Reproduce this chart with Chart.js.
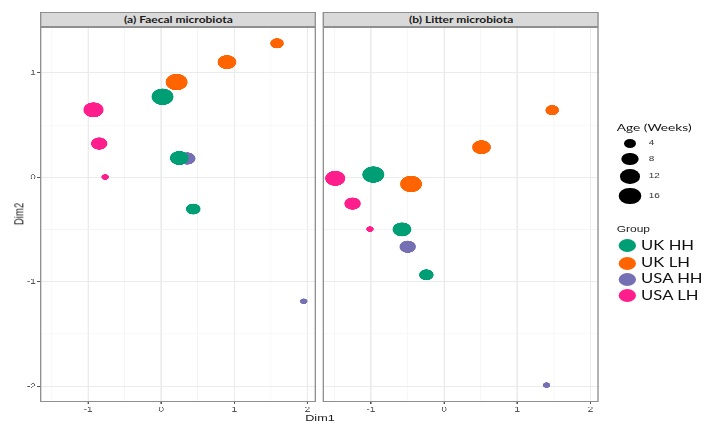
<!DOCTYPE html>
<html><head><meta charset="utf-8">
<script src="https://cdn.jsdelivr.net/npm/chart.js@4.4.0/dist/chart.umd.min.js"></script>
<style>
html,body{margin:0;padding:0;background:#fff;width:708px;height:431px;overflow:hidden}
#fig{position:absolute;left:0;top:0;width:531px;height:431px;transform:scaleX(1.33333);transform-origin:0 0;}
canvas{position:absolute;top:0}
.frame{position:absolute;border:1.2px solid #8f8f8f;box-sizing:border-box;pointer-events:none}
.strip{position:absolute;background:#d9d9d9;border:1.2px solid #8f8f8f;box-sizing:border-box;font:bold 9px Lato, sans-serif;text-align:center;color:#1a1a1a;line-height:13px;white-space:nowrap}
.t{position:absolute;white-space:nowrap}
.dot{position:absolute;border-radius:50%}
</style></head>
<body>
<div id="fig">
  <canvas id="ca" width="240" height="431" style="left:0;width:240px;height:431px"></canvas>
  <canvas id="cb" width="211" height="431" style="left:240px;width:211px;height:431px"></canvas>
  <div class="frame" style="left:30.3px;top:26.5px;width:207px;height:375px"></div>
  <div class="frame" style="left:242.3px;top:26.5px;width:207.2px;height:375px"></div>
  <div class="strip" style="left:30.3px;top:12.3px;width:207px;height:15px" id="sa">(a) Faecal microbiota</div>
  <div class="strip" style="left:242.3px;top:12.3px;width:207.2px;height:15px" id="sb">(b) Litter microbiota</div>
  <div class="t" style="left:240px;top:412px;transform:translateX(-50%);font:9.5px 'Liberation Sans';color:#1a1a1a">Dim1</div>
  <div class="t" style="left:13.5px;top:214px;transform:translate(-50%,-50%) rotate(-90deg);font:9.5px 'Liberation Sans';color:#1a1a1a">Dim2</div>
  <div id="legend"></div>
</div>
<script>
// ---- data ----
const groups = ['UK HH', 'UK LH', 'USA HH', 'USA LH'];
const groupColors = ['#009E74', '#FF6400', '#7570B3', '#FF1E8C'];

// (a) Faecal microbiota
const faecalUKHH_x = [0.018, 0.247, 0.438];
const faecalUKHH_y = [0.771, 0.185, -0.304];
const faecalUKHH_age = [16, 11, 6];
const faecalUKLH_x = [1.584, 0.899, 0.210];
const faecalUKLH_y = [1.283, 1.103, 0.912];
const faecalUKLH_age = [5, 11, 16];
const faecalUSAHH_x = [0.356, 1.949];
const faecalUSAHH_y = [0.180, -1.187];
const faecalUSAHH_age = [8, 1];
const faecalUSALH_x = [-0.927, -0.849, -0.767];
const faecalUSALH_y = [0.646, 0.323, 0.003];
const faecalUSALH_age = [13, 8, 1];

// (b) Litter microbiota
const litterUKHH_x = [-0.967, -0.575, -0.242];
const litterUKHH_y = [0.026, -0.499, -0.934];
const litterUKHH_age = [16, 11, 6];
const litterUKLH_x = [1.477, 0.511, -0.451];
const litterUKLH_y = [0.643, 0.288, -0.064];
const litterUKLH_age = [5, 11, 16];
const litterUSAHH_x = [-0.497, 1.400];
const litterUSAHH_y = [-0.665, -1.990];
const litterUSAHH_age = [8, 1];
const litterUSALH_x = [-1.487, -1.250, -1.012];
const litterUSALH_y = [-0.010, -0.252, -0.496];
const litterUSALH_age = [13, 8, 1];

// axes
const xMin = -1.653, xMax = 2.121;
const yMin = -2.147, yMax = 1.444;
const xTicks = [-1.5, -1, -0.5, 0, 0.5, 1, 1.5, 2];
const xMajor = [-1, 0, 1, 2];
const yTicks = [-2, -1.5, -1, -0.5, 0, 0.5, 1];
const yMajor = [-2, -1, 0, 1];
const ageBreaks = [4, 8, 12, 16];

// size scale (area ~ age)
function radius(age) { return 1.05 + 1.8 * Math.sqrt(age); }

function gridOpts(major, drawTicks) {
  return {
    color: c => major.includes(c.tick && c.tick.value) ? '#EBEBEB' : '#F4F4F4',
    lineWidth: c => major.includes(c.tick && c.tick.value) ? 1 : 0.6,
    tickColor: c => major.includes(c.tick && c.tick.value) ? '#555' : 'rgba(0,0,0,0)',
    tickLength: 2.5,
    drawTicks: drawTicks
  };
}
function noPad(ax) { ax.paddingLeft = 0; ax.paddingRight = 0; ax.paddingTop = 0; ax.paddingBottom = 0; }

function makeChart(id, sets, showY, yWidth, padRight) {
  const datasets = groups.map((g, i) => ({
    label: g,
    data: sets[i][0].map((v, j) => ({ x: v, y: sets[i][1][j], age: sets[i][2][j] })),
    backgroundColor: groupColors[i],
    borderWidth: 0,
    pointRadius: c => c.raw ? radius(c.raw.age) : 3,
    pointHoverRadius: c => c.raw ? radius(c.raw.age) : 3
  }));
  return new Chart(document.getElementById(id), {
    type: 'scatter',
    data: { datasets },
    options: {
      responsive: false, animation: false, devicePixelRatio: 3, events: [],
      layout: { autoPadding: false, padding: { top: 26.5, right: padRight, left: 0, bottom: 0 } },
      plugins: { legend: { display: false }, tooltip: { enabled: false } },
      scales: {
        x: {
          type: 'linear', min: xMin, max: xMax,
          afterBuildTicks: ax => { ax.ticks = xTicks.map(v => ({ value: v })); },
          afterFit: ax => { ax.height = 29.5; noPad(ax); },
          grid: gridOpts(xMajor, true),
          border: { display: false },
          ticks: { autoSkip: false, maxRotation: 0, minRotation: 0, padding: 1, color: '#555',
            font: { family: 'Liberation Sans', size: 7.5 },
            callback: v => xMajor.includes(v) ? String(v) : '' }
        },
        y: {
          type: 'linear', min: yMin, max: yMax,
          afterBuildTicks: ax => { ax.ticks = yTicks.map(v => ({ value: v })); },
          afterFit: ax => { ax.width = yWidth; noPad(ax); },
          grid: gridOpts(yMajor, showY),
          border: { display: false },
          ticks: { display: showY, autoSkip: false, padding: 1, color: '#555',
            font: { family: 'Liberation Sans', size: 7.5 },
            callback: v => yMajor.includes(v) ? String(v) : '' }
        }
      }
    }
  });
}

makeChart('ca', [
  [faecalUKHH_x, faecalUKHH_y, faecalUKHH_age],
  [faecalUKLH_x, faecalUKLH_y, faecalUKLH_age],
  [faecalUSAHH_x, faecalUSAHH_y, faecalUSAHH_age],
  [faecalUSALH_x, faecalUSALH_y, faecalUSALH_age]
], true, 30.3, 2.8);
makeChart('cb', [
  [litterUKHH_x, litterUKHH_y, litterUKHH_age],
  [litterUKLH_x, litterUKLH_y, litterUKLH_age],
  [litterUSAHH_x, litterUSAHH_y, litterUSAHH_age],
  [litterUSALH_x, litterUSALH_y, litterUSALH_age]
], false, 2.3, 1.5);

// ---- legends (HTML) ----
const lg = document.getElementById('legend');
function add(html) { lg.insertAdjacentHTML('beforeend', html); }
add(`<div class="t" style="left:462.5px;top:121px;font:10.3px Lato;color:#111">Age (Weeks)</div>`);
const ageY = [143.3, 159, 176.3, 196];
ageBreaks.forEach((a, i) => {
  const r = radius(a);
  add(`<div class="dot" style="left:${472.5 - r}px;top:${ageY[i] - r}px;width:${2 * r}px;height:${2 * r}px;background:#000"></div>`);
  add(`<div class="t" style="left:486.5px;top:${ageY[i] - 5}px;font:7.5px 'Liberation Sans';color:#333;line-height:10px">${a}</div>`);
});
add(`<div class="t" style="left:462.5px;top:223px;font:9px 'Liberation Sans';color:#222;line-height:12px">Group</div>`);
const grpY = [245.7, 263.3, 279.3, 295.7];
groups.forEach((g, i) => {
  const r = 6.6;
  add(`<div class="dot" style="left:${470.8 - r}px;top:${grpY[i] - r}px;width:${2 * r}px;height:${2 * r}px;background:${groupColors[i]}"></div>`);
  add(`<div class="t" style="left:480.8px;top:${grpY[i] - 8}px;font:12.5px Lato;color:#111;line-height:16px">${g}</div>`);
});
</script>
</body></html>
